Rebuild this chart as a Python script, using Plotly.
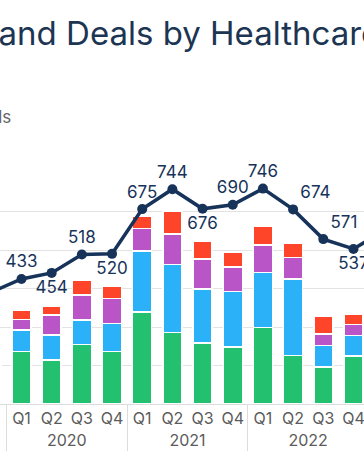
import plotly.graph_objects as go

# ---- data ----
years = ["2019"] * 4 + ["2020"] * 4 + ["2021"] * 4 + ["2022"] * 4 + ["2023"]
quarters = ["Q1", "Q2", "Q3", "Q4"] * 4 + ["Q1"]

# funding by segment ($B), stacked bottom -> top
biopharma = [None, None, None, 1.16, 2.72, 2.29, 3.10, 2.72, 4.79, 3.72, 3.18, 2.95, 3.98, 2.51, 1.91, 2.49, None]
healthtech = [None, None, None, 0.97, 1.12, 1.30, 1.26, 1.47, 3.16, 3.54, 2.79, 2.90, 2.84, 3.98, 1.12, 1.06, None]
medtech = [None, None, None, 0.59, 0.56, 1.04, 1.30, 1.30, 1.18, 1.57, 1.55, 1.28, 1.44, 1.11, 0.61, 0.59, None]
diagnostics = [None, None, None, 0.34, 0.48, 0.47, 0.78, 0.64, 0.60, 1.20, 0.91, 0.75, 0.99, 0.75, 0.90, 0.54, None]

# number of deals
deals = [None, None, None, 387, 433, 454, 518, 520, 675, 744, 676, 690, 746, 674, 571, 537, 600]
deal_label_pos = ["top center", "top center", "top center", "bottom center", "top center",
                  "bottom center", "top center", "bottom center", "top center", "top center",
                  "bottom center", "top center", "top center", "top right", "top right",
                  "bottom center", "top center"]

segments = [
    ("Biopharma", biopharma, "#22c06f"),
    ("Healthtech", healthtech, "#2ab1f8"),
    ("Medtech", medtech, "#b955c6"),
    ("Diagnostics & Tools", diagnostics, "#fe4529"),
]

FONT = "Inter, Noto Sans, sans-serif"
NAVY = "#17335a"

fig = go.Figure()
x = [years, quarters]
for name, vals, color in segments:
    fig.add_trace(go.Bar(
        x=x, y=vals, name=name,
        marker=dict(color=color, line=dict(color="white", width=1.5)),
        hoverinfo="skip",
    ))

fig.add_trace(go.Scatter(
    x=x, y=deals, name="Deals", yaxis="y2",
    mode="lines+markers+text",
    line=dict(color=NAVY, width=3.5),
    marker=dict(color=NAVY, size=10),
    text=[str(v) if v is not None else "" for v in deals],
    textposition=deal_label_pos,
    textfont=dict(family=FONT, size=17, color=NAVY),
    cliponaxis=False,
))

fig.add_annotation(
    text="Funding and Deals by Healthcare Sector",
    xref="paper", yref="paper", x=0, y=1.6147,
    xanchor="left", yanchor="middle", xshift=-138, yshift=-2,
    showarrow=False,
    font=dict(family=FONT, size=33, color="#1c3553"),
)
fig.add_annotation(
    text="Funding ($B) and Deals",
    xref="paper", yref="paper", x=13 / 364, y=1.2424,
    xanchor="right", yanchor="middle",
    showarrow=False,
    font=dict(family=FONT, size=17, color="#666666"),
)

fig.update_layout(
    width=364, height=460,
    margin=dict(l=0, r=0, t=173, b=56, autoexpand=False),
    paper_bgcolor="white", plot_bgcolor="white",
    barmode="stack", bargap=0.37,
    showlegend=False,
    font=dict(family=FONT, size=16, color="#5b5b5b"),
    xaxis=dict(
        type="multicategory",
        range=[3.2876, 15.349],
        automargin=False,
        tickangle=0,
        showgrid=False,
        showline=True, linecolor="#dcdcdc", linewidth=1,
        ticks="",
        showdividers=True, dividercolor="#dcdcdc", dividerwidth=1,
        tickfont=dict(family=FONT, size=16, color="#5b5b5b"),
    ),
    yaxis=dict(
        range=[0, 12], dtick=2,
        showgrid=True, gridcolor="#e3e3e3", gridwidth=1,
        zeroline=False, showticklabels=False,
    ),
    yaxis2=dict(
        range=[0, 800], overlaying="y", side="right",
        showgrid=False, zeroline=False, showticklabels=False,
    ),
)

fig.write_html(
    "out.html",
    config={"displayModeBar": False},
    post_script="document.body.style.margin='0px';",
)
